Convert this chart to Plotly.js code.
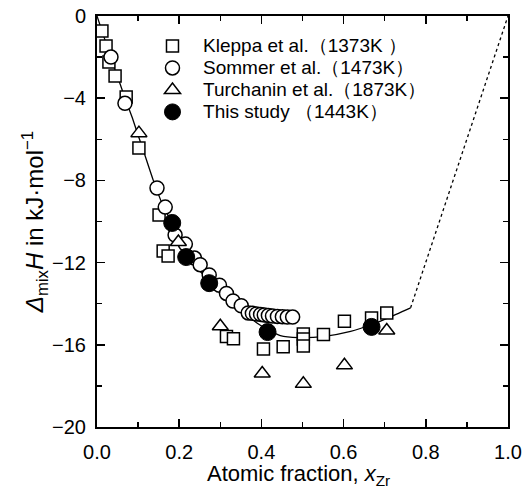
<!DOCTYPE html>
<html><head><meta charset="utf-8">
<script src="https://cdn.plot.ly/plotly-3.0.1.min.js"></script>
<style>html,body{margin:0;padding:0;background:#fff;}#chart{width:524px;height:491px;}</style>
</head><body><div id="chart"></div>
<script>
// Kleppa et al. (1373K)
const kleppaX = [0.012,0.022,0.029,0.044,0.071,0.102,0.151,0.161,0.173,0.315,0.332,0.405,0.453,0.502,0.502,0.502,0.551,0.602,0.668,0.705];
const kleppaY = [-0.73,-1.46,-2.24,-2.92,-3.94,-6.42,-9.68,-11.44,-11.68,-15.6,-15.7,-16.2,-16.1,-15.47,-15.72,-16.06,-15.5,-14.85,-14.7,-14.45];
// Sommer et al. (1473K)
const sommerX = [0.034,0.068,0.146,0.166,0.19,0.215,0.237,0.251,0.273,0.298,0.315,0.331,0.351,0.368,0.378,0.388,0.398,0.407,0.417,0.427,0.439,0.451,0.463,0.476];
const sommerY = [-2.0,-4.25,-8.37,-9.3,-10.66,-11.1,-11.78,-12.1,-12.6,-13.1,-13.5,-13.87,-14.1,-14.45,-14.47,-14.5,-14.52,-14.55,-14.57,-14.6,-14.62,-14.63,-14.65,-14.65];
// Turchanin et al. (1873K)
const turchX = [0.102,0.198,0.30,0.402,0.502,0.602,0.705];
const turchY = [-5.7,-11.0,-15.1,-17.4,-17.9,-17.0,-15.3];
// This study (1443K)
const studyX = [0.183,0.217,0.273,0.415,0.668];
const studyY = [-10.07,-11.73,-13.0,-15.38,-15.13];
// fitted curve (solid) and extrapolation (dashed)
const fitX = [0,0.02,0.04,0.056,0.07,0.085,0.1,0.112,0.137,0.16,0.183,0.217,0.25,0.273,0.31,0.33,0.36,0.39,0.415,0.446,0.49,0.55,0.617,0.67,0.707,0.763];
const fitY = [0,-1.2,-2.4,-3.3,-4.1,-4.9,-5.8,-6.5,-8.0,-9.2,-10.1,-11.6,-12.4,-12.9,-13.6,-13.85,-14.45,-14.95,-15.25,-15.55,-15.65,-15.6,-15.35,-15.0,-14.7,-14.2];
const extX = [0.763,1.0];
const extY = [-14.2,0];

const names = ['Kleppa et al.\uff081373K \uff09','Sommer et al.\uff081473K\uff09','Turchanin et al.\uff081873K\uff09','This study \uff081443K\uff09'];
const legendName = s => '<span style="font-size:19px">\u00a0\u00a0' + s + '</span>';

const mk = (sym,size,fill,lw)=>({symbol:sym,size:size,color:fill,line:{color:'#000',width:lw}});
const data = [
  {x:fitX,y:fitY,mode:'lines',line:{color:'#000',width:1.3,shape:'spline',smoothing:0.6},showlegend:false,hoverinfo:'skip'},
  {x:extX,y:extY,mode:'lines',line:{color:'#000',width:1.3,dash:'3px,3px'},showlegend:false,hoverinfo:'skip'},
  {x:kleppaX,y:kleppaY,mode:'markers',name:legendName(names[0]),marker:mk('square',12,'#fff',1.5)},
  {x:sommerX,y:sommerY,mode:'markers',name:legendName(names[1]),marker:mk('circle',14,'#fff',1.5)},
  {x:turchX,y:turchY,mode:'markers',name:legendName(names[2]),marker:mk('triangle-up',14,'#fff',1.5)},
  {x:studyX,y:studyY,mode:'markers',name:legendName(names[3]),marker:mk('circle',17,'#000',1)}
];
const axisCommon = {showline:true,linecolor:'#000',linewidth:2,mirror:'ticks',ticks:'inside',ticklen:8,tickwidth:1.5,tickcolor:'#000',showgrid:false,zeroline:false,
  tickfont:{family:'Liberation Sans, Arial, sans-serif',size:20,color:'#000'}};
const layout = {
  width:524,height:491,margin:{l:97,r:16,t:16,b:64},
  paper_bgcolor:'#fff',plot_bgcolor:'#fff',
  font:{family:'Liberation Sans, Arial, sans-serif',color:'#000'},
  xaxis:Object.assign({},axisCommon,{range:[0,1],dtick:0.2,tick0:0,tickformat:'.1f',ticklabelstandoff:6,
    minor:{ticks:'inside',ticklen:5,tickwidth:1.5,dtick:0.1,tickcolor:'#000',showgrid:false}}),
  yaxis:Object.assign({},axisCommon,{range:[-20,0],dtick:4,tick0:0,ticklabelstandoff:5,
    minor:{ticks:'inside',ticklen:5,tickwidth:1.5,dtick:2,tickcolor:'#000',showgrid:false},
    title:{text:'<i>\u0394</i><sub>mix</sub><i>H</i> in kJ\u00b7mol<sup>\u22121</sup>',font:{size:24},standoff:2}}),
  annotations:[{xref:'paper',yref:'paper',x:0.49,y:-0.116,xanchor:'center',yanchor:'middle',showarrow:false,
    text:'Atomic fraction, <i>x</i><sub>Zr</sub>',font:{family:'Liberation Sans, Arial, sans-serif',size:22,color:'#000'}}],
  showlegend:true,
  legend:{x:0.135,y:0.966,xanchor:'left',yanchor:'top',bgcolor:'rgba(0,0,0,0)',borderwidth:0,
    font:{family:'Liberation Sans, Arial, sans-serif',size:14.6,color:'#000'},tracegroupgap:0,itemwidth:30}
};
Plotly.newPlot('chart',data,layout,{staticPlot:true,displayModeBar:false});
</script></body></html>
